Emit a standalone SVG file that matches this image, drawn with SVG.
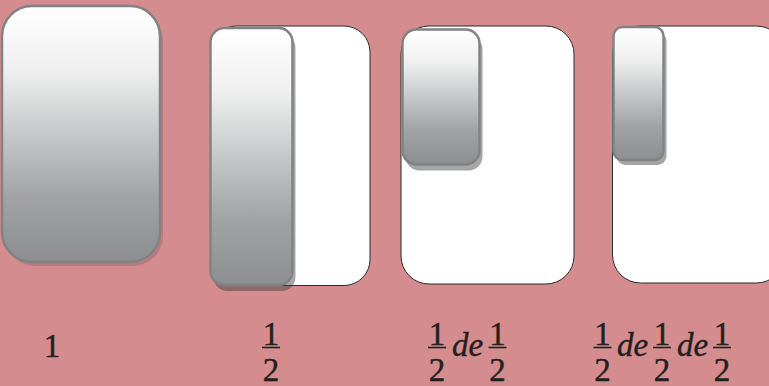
<svg xmlns="http://www.w3.org/2000/svg" width="769" height="386" viewBox="0 0 769 386">
  <defs>
    <linearGradient id="gray" x1="0" y1="0" x2="0" y2="1">
      <stop offset="0" stop-color="#ffffff"/>
      <stop offset="0.25" stop-color="#eeefee"/>
      <stop offset="0.5" stop-color="#c6c7c8"/>
      <stop offset="0.75" stop-color="#a0a2a4"/>
      <stop offset="1" stop-color="#8c8e90"/>
    </linearGradient>
  </defs>
  <style>
    .bg { fill: #d48c8e; }
    .card { fill: #ffffff; stroke: #2b2b2b; stroke-width: 1; }
    .piece { fill: url(#gray); stroke: #808285; stroke-width: 2.5; }
    .shadow { fill: #3a3a3a; fill-opacity: 0.45; }
    .shadow-soft { fill: #3a3a3a; fill-opacity: 0.18; }
    .bar { stroke: #231f20; stroke-width: 1.6; }
    text { font-family: "Liberation Serif", "DejaVu Serif", serif; font-size: 33px; fill: #231f20; stroke: #231f20; stroke-width: 0.4px; text-anchor: middle; }
    text.it { font-style: italic; }
  </style>
  <rect class="bg" x="0" y="0" width="769" height="386"/>

  <g id="whole">
    <rect class="shadow-soft" x="5" y="10" width="158" height="256" rx="30"/>
    <rect class="piece" x="2" y="6" width="158" height="256" rx="30"/>
  </g>

  <g id="half">
    <rect class="card" x="210.5" y="26" width="159.5" height="259.5" rx="26"/>
    <rect class="shadow" x="213.5" y="34" width="82" height="257" rx="14"/>
    <rect class="piece" x="210.5" y="28" width="82" height="257" rx="14"/>
  </g>

  <g id="half-of-half">
    <rect class="card" x="401" y="26" width="173" height="258" rx="28"/>
    <rect class="shadow" x="405.5" y="35.5" width="77" height="135" rx="14"/>
    <rect class="piece" x="402.5" y="29.5" width="77" height="135" rx="14"/>
  </g>

  <g id="half-of-half-of-half">
    <rect class="card" x="612.5" y="26" width="172" height="257" rx="28"/>
    <rect class="shadow" x="616.5" y="32" width="50" height="133" rx="9"/>
    <rect class="piece" x="613.5" y="27" width="50" height="133" rx="9"/>
  </g>

  <g id="labels">
    <text x="52" y="357">1</text>

    <text x="271" y="345">1</text>
    <line class="bar" x1="262" y1="347.5" x2="280" y2="347.5"/>
    <text x="271" y="380.5">2</text>

    <text x="437" y="345">1</text>
    <line class="bar" x1="428" y1="347.5" x2="446" y2="347.5"/>
    <text x="437" y="380.5">2</text>
    <text class="it" x="467.5" y="356">de</text>
    <text x="497.5" y="345">1</text>
    <line class="bar" x1="488.5" y1="347.5" x2="506.5" y2="347.5"/>
    <text x="497.5" y="380.5">2</text>

    <text x="602.5" y="345">1</text>
    <line class="bar" x1="593.5" y1="347.5" x2="611.5" y2="347.5"/>
    <text x="602.5" y="380.5">2</text>
    <text class="it" x="632.5" y="356">de</text>
    <text x="662" y="345">1</text>
    <line class="bar" x1="653" y1="347.5" x2="671" y2="347.5"/>
    <text x="662" y="380.5">2</text>
    <text class="it" x="692.5" y="356">de</text>
    <text x="722" y="345">1</text>
    <line class="bar" x1="713" y1="347.5" x2="731" y2="347.5"/>
    <text x="722" y="380.5">2</text>
  </g>
</svg>
